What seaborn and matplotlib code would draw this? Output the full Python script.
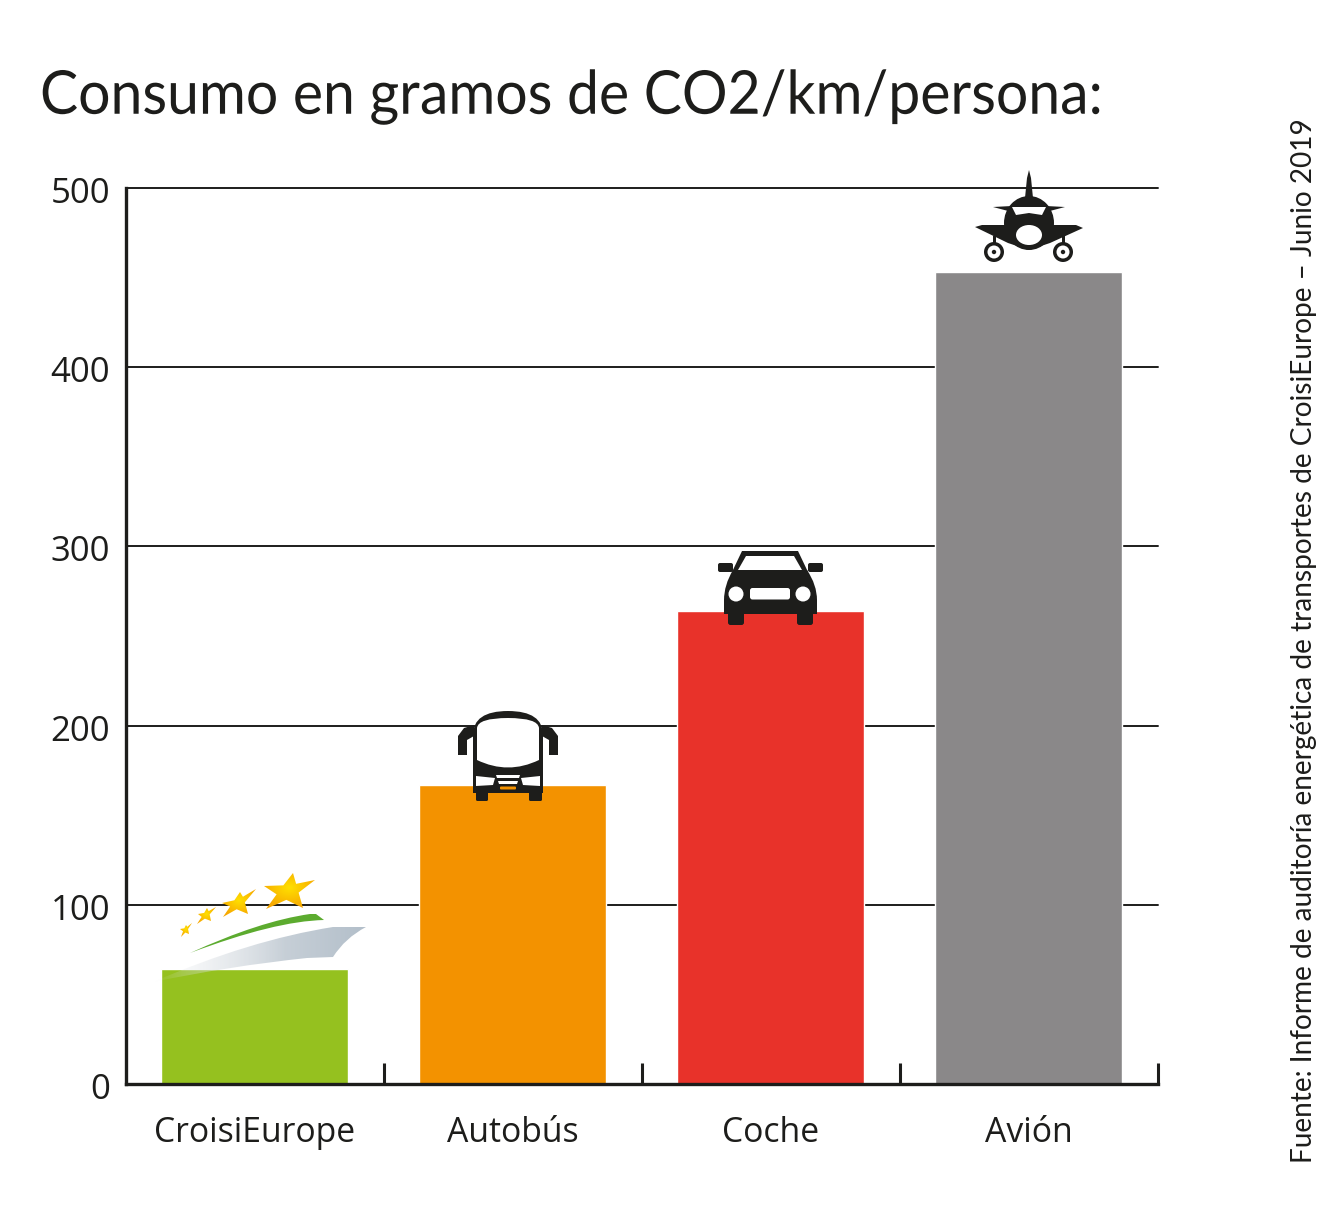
import numpy as np
import pandas as pd
import matplotlib.pyplot as plt
import seaborn as sns
from matplotlib.patches import Polygon, Circle, Ellipse, FancyBboxPatch, PathPatch
from matplotlib.path import Path
from matplotlib.colors import to_rgb
from matplotlib.patheffects import AbstractPathEffect
from matplotlib.transforms import Affine2D, ScaledTranslation

categories = ["CroisiEurope", "Autobús", "Coche", "Avión"]
values = [64, 167, 264, 453]
bar_colors = ["#95c11f", "#f39200", "#e8322a", "#8a8889"]
y_ticks = [0, 100, 200, 300, 400, 500]

title = "Consumo en gramos de CO2/km/persona:"
source = "Fuente: Informe de auditoría energética de transportes de CroisiEurope – Junio 2019"

INK = "#1d1d1b"
W, H = 1325, 1223


class Squeeze(AbstractPathEffect):
    # el titulo original va muy apretado, lo estrecho en horizontal
    def __init__(self, x0, sx):
        super().__init__()
        self.x0, self.sx = x0, sx

    def draw_path(self, renderer, gc, tpath, affine, rgbFace=None):
        extra = Affine2D().translate(-self.x0, 0).scale(self.sx, 1).translate(self.x0, 0)
        renderer.draw_path(gc, tpath, affine + extra, rgbFace)


sns.set_style("white")
plt.rcParams["font.family"] = ["Open Sans", "DejaVu Sans"]

fig = plt.figure(figsize=(W / 100, H / 100), dpi=100)
ax = fig.add_axes([125.5 / W, 1 - 1084 / H, 1032 / W, 896 / H])

df = pd.DataFrame({"cat": categories, "val": values})
sns.barplot(data=df, x="cat", y="val", hue="cat", palette=bar_colors, order=categories,
            width=0.725, saturation=1, legend=False, ax=ax)

ax.set_xlim(-0.5, 3.5)
ax.set_ylim(0, 500)
ax.set_yticks(y_ticks)
ax.set_xlabel("")
ax.set_ylabel("")
ax.set_axisbelow(True)
ax.grid(True, axis="y", color=INK, lw=1.4, clip_on=False)
ax.grid(False, axis="x")
sns.despine(ax=ax, top=True, right=True)
for s in ["left", "bottom"]:
    ax.spines[s].set_linewidth(2.4)
    ax.spines[s].set_color(INK)
    ax.spines[s].set_zorder(5)
ax.tick_params(axis="y", length=0, pad=11, labelsize=25, labelcolor=INK)
ax.tick_params(axis="x", length=0, pad=23, labelsize=24.3, labelcolor=INK)
for lab in ax.get_yticklabels():
    lab.set_transform(lab.get_transform() + ScaledTranslation(0, -2 / 100, fig.dpi_scale_trans))
# separadores entre categorias
ax.set_xticks([0.5, 1.5, 2.5, 3.5], minor=True)
ax.tick_params(axis="x", which="minor", bottom=True, direction="in", length=15, width=2.2, color=INK)

title_txt = fig.text(40 / W, 1 - 97 / H, title, fontsize=43.5, color=INK, va="center", ha="left",
                     family=["Lato", "DejaVu Sans"])
title_txt.set_path_effects([Squeeze(40, 0.945)])
fig.text(1304 / W, 1 - 640.5 / H, source, fontsize=20.2, color=INK, rotation=90,
         va="center", ha="center", family=["Lato", "DejaVu Sans"])

# capa en pixeles para los iconos
ov = fig.add_axes([0, 0, 1, 1], zorder=10)
ov.patch.set_alpha(0)
ov.axis("off")


def poly(pts, color=INK, z=2):
    ov.add_patch(Polygon(pts, closed=True, fc=color, ec="none", zorder=z))


def rbox(x0, y0, x1, y1, r, color=INK, z=2):
    ov.add_patch(FancyBboxPatch((x0 + r, y0 + r), x1 - x0 - 2 * r, y1 - y0 - 2 * r,
                                boxstyle=f"round,pad={r},rounding_size={r}",
                                fc=color, ec="none", zorder=z))


def curve(verts, codes, color=INK, z=2):
    ov.add_patch(PathPatch(Path(verts, codes), fc=color, ec="none", zorder=z))


def gradient(path, c0, c1, a0, a1, box):
    x0, y0, x1, y1 = box
    t = np.linspace(0, 1, 200)
    img = np.zeros((2, 200, 4))
    img[..., :3] = np.outer(1 - t, to_rgb(c0)) + np.outer(t, to_rgb(c1))
    img[..., 3] = a0 + (a1 - a0) * np.clip(t * 1.6, 0, 1)
    im = ov.imshow(img, extent=(x0, x1, y1, y0), aspect="auto", zorder=2, interpolation="bilinear")
    im.set_clip_path(PathPatch(path, transform=ov.transData))


def star(tips, z=3):
    tips = np.array(tips, float)
    c = tips.mean(axis=0)
    pts = []
    for i in range(5):
        pts.append(tips[i])
        mid = (tips[i] + tips[(i + 1) % 5]) / 2
        pts.append(c + 0.5 * (mid - c))
    pts = np.array(pts)
    x0, y0, x1, y1 = pts[:, 0].min(), pts[:, 1].min(), pts[:, 0].max(), pts[:, 1].max()
    yy, xx = np.mgrid[0:1:60j, 0:1:60j]
    d = np.clip(np.hypot(xx - 0.5, yy - 0.4) * 1.7, 0, 1)[..., None]
    img = (1 - d) * np.array(to_rgb("#ffe000")) + d * np.array(to_rgb("#f7a800"))
    im = ov.imshow(img, extent=(x0, x1, y1, y0), aspect="auto", zorder=z, interpolation="bilinear")
    im.set_clip_path(Polygon(pts, closed=True, transform=ov.transData))


C3, L, M = Path.CURVE3, Path.LINETO, Path.MOVETO

# barco CroisiEurope
hull = Path([(153, 982), (250, 940), (333, 927), (366, 927), (345, 938), (333, 957),
             (307, 958), (230, 966), (153, 982), (153, 982)],
            [M, C3, C3, L, C3, C3, L, C3, C3, Path.CLOSEPOLY])
gradient(hull, "#e6e9ec", "#b3bfca", 0.0, 1.0, (153, 927, 366, 982))
curve([(190, 953), (260, 921), (310, 914), (316, 914), (324, 920), (275, 921), (190, 953)],
      [M, C3, C3, L, L, C3, C3], color="#5cab2f")
star([(293, 873), (315, 880), (303, 908), (266, 909), (264, 886)])
star([(256, 889), (248, 914), (223, 917), (222, 903), (240, 892)])
star([(216, 907), (211, 921), (197, 924), (198, 914), (207, 908)])
star([(192, 923), (189, 934), (181, 937), (180, 929), (186, 925)])

# autobus
curve([(473, 793), (473, 735), (473, 711), (508, 711), (543, 711), (543, 735), (543, 793), (473, 793)],
      [M, L, C3, C3, C3, C3, L, L])
rbox(476, 788, 488, 801, 1.5)
rbox(529, 788, 542, 801, 1.5)
poly([(474, 725), (464, 728), (458, 736), (458, 755), (467, 755), (467, 740), (474, 736)])
poly([(542, 725), (552, 728), (558, 736), (558, 755), (549, 755), (549, 740), (542, 736)])
curve([(477, 760), (477, 728), (478, 718), (508, 718), (538, 718), (539, 728), (539, 760),
       (508, 775), (477, 760)],
      [M, L, C3, C3, C3, C3, L, C3, C3], color="white")
poly([(476, 776), (495, 778), (493, 785), (476, 786)], "white", 3)
poly([(540, 776), (521, 778), (523, 785), (540, 786)], "white", 3)
poly([(496, 775), (520, 775), (519, 778), (497, 778)], "white", 3)
poly([(498, 781), (518, 781), (517, 784), (499, 784)], "white", 3)
rbox(500, 786.5, 516, 789.5, 1, "#f39200", 3)

# coche
poly([(742, 551), (798, 551), (808, 572), (732, 572)])
poly([(746, 556), (794, 556), (802, 570), (738, 570)], "white", 3)
curve([(733, 570), (807, 570), (817, 585), (817, 600), (817, 614), (724, 614), (724, 600), (724, 585), (733, 570)],
      [M, L, C3, C3, L, L, L, C3, C3])
rbox(728, 605, 744, 625, 2.5)
rbox(797, 605, 813, 625, 2.5)
rbox(718, 563, 733, 572, 2)
rbox(808, 563, 823, 572, 2)
ov.add_patch(Circle((736, 594), 7.5, fc="white", ec="none", zorder=3))
ov.add_patch(Circle((803, 594), 7.5, fc="white", ec="none", zorder=3))
rbox(750, 588, 790, 599.5, 2.5, "white", 3)

# avion
poly([(1029, 170), (1031, 178), (1033, 198), (1025, 198), (1027, 178)])
ov.add_patch(Ellipse((1029, 223), 50, 54, fc=INK, ec="none", zorder=2))
poly([(993, 207), (1012, 206), (1046, 206), (1065, 207), (1046, 212), (1012, 212)])
poly([(975, 227), (982, 225), (1076, 225), (1083, 228), (1050, 243), (1029, 250), (1008, 243)])
poly([(1012, 207), (1046, 207), (1042, 215), (1029, 213), (1016, 215)], "white", 3)
ov.add_patch(Ellipse((1029, 235), 26, 20, fc="white", ec="none", zorder=3))
for wx in (994, 1063):
    poly([(wx - 1.5, 236), (wx + 1.5, 236), (wx + 1.5, 246), (wx - 1.5, 246)])
    ov.add_patch(Circle((wx, 252), 10, fc=INK, ec="none", zorder=2))
    ov.add_patch(Circle((wx, 252), 6.5, fc="white", ec="none", zorder=3))
    ov.add_patch(Circle((wx, 252), 2.2, fc=INK, ec="none", zorder=4))

ov.set_xlim(0, W)
ov.set_ylim(H, 0)

fig.savefig("out.png", dpi=100)
